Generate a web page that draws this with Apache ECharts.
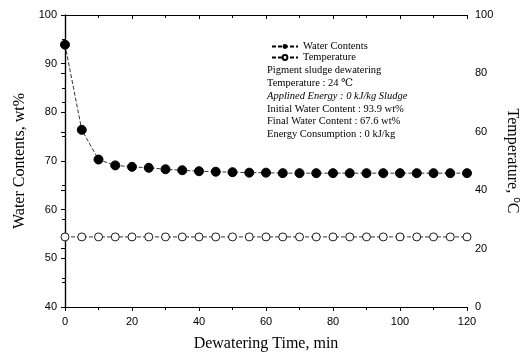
<!DOCTYPE html>
<html><head><meta charset="utf-8">
<script src="https://cdn.jsdelivr.net/npm/echarts@6/dist/echarts.min.js"></script>
<style>html,body{margin:0;padding:0;background:#fff}#c{width:525px;height:357px}</style>
</head><body><div id="c"></div>
<script>
var times = [0,5,10,15,20,25,30,35,40,45,50,55,60,65,70,75,80,85,90,95,100,105,110,115,120];
var waterContents = [93.9,76.4,70.3,69.1,68.8,68.6,68.3,68.1,67.9,67.8,67.7,67.6,67.6,67.5,67.5,67.5,67.5,67.5,67.5,67.5,67.5,67.5,67.5,67.5,67.5];
var temperature = [24,24,24,24,24,24,24,24,24,24,24,24,24,24,24,24,24,24,24,24,24,24,24,24,24];
var notes = ["Pigment sludge dewatering","Temperature : 24 \u2103","Applined Energy : 0 kJ/kg Sludge","Initial Water Content : 93.9 wt%","Final Water Content : 67.6 wt%","Energy Consumption : 0 kJ/kg"];

var chart = echarts.init(document.getElementById('c'));
var serif = '"Liberation Serif", "DejaVu Serif", serif';
var sans = '"Liberation Sans", Arial, sans-serif';
var axisLine = {show:true, lineStyle:{color:'#000', width:1.2}};
var graphics = notes.map(function(t,i){
  return {type:'text', left:267, top:65+i*12.8, style:{text:t, font:(i===2?'italic ':'')+'10.5px '+serif, fill:'#000'}};
});
chart.setOption({
  animation:false,
  grid:{left:65, right:58, top:15, bottom:50, containLabel:false, outerBoundsMode:'none'},
  legend:{
    orient:'vertical', left:266, top:36, itemGap:0, itemWidth:26, itemHeight:6,
    textStyle:{fontFamily:serif, fontSize:10.5, color:'#000'},
    data:['Water Contents','Temperature']
  },
  graphic: graphics,
  xAxis:[{
    type:'value', min:0, max:120, interval:20, position:'bottom',
    name:'Dewatering Time, min', nameLocation:'middle', nameGap:29,
    nameTextStyle:{fontFamily:serif, fontSize:16, color:'#000'},
    axisLine:axisLine, axisTick:{show:true, inside:false, length:4, lineStyle:{color:'#000'}},
    minorTick:{show:true, splitNumber:2, length:3, lineStyle:{color:'#000'}},
    axisLabel:{fontFamily:sans, fontSize:11, color:'#000', margin:9},
    splitLine:{show:false}
  },{
    type:'value', min:0, max:120, interval:20, position:'top',
    axisLine:axisLine, axisTick:{show:true, inside:true, length:4, lineStyle:{color:'#000'}},
    minorTick:{show:true, splitNumber:2, length:3, lineStyle:{color:'#000'}},
    axisLabel:{show:false}, splitLine:{show:false}
  }],
  yAxis:[{
    type:'value', min:40, max:100, interval:10, position:'left',
    name:'Water Contents, wt%', nameLocation:'middle', nameGap:36, nameRotate:90,
    nameTextStyle:{fontFamily:serif, fontSize:16, color:'#000'},
    axisLine:axisLine, axisTick:{show:true, inside:false, length:4, lineStyle:{color:'#000'}},
    minorTick:{show:true, splitNumber:2, length:3, lineStyle:{color:'#000'}},
    axisLabel:{fontFamily:sans, fontSize:11, color:'#000', margin:8},
    splitLine:{show:false}
  },{
    type:'value', min:0, max:100, interval:20, position:'right',
    name:'Temperature, {sup|o}C', nameLocation:'middle', nameGap:34, nameRotate:-90,
    nameTextStyle:{fontFamily:serif, fontSize:16, color:'#000',
      rich:{sup:{fontFamily:sans, fontSize:10, color:'#000', verticalAlign:'top', padding:[0,0,8,0]}}},
    axisLine:axisLine, axisTick:{show:true, inside:true, length:4, lineStyle:{color:'#000'}},
    minorTick:{show:true, splitNumber:2, length:3, lineStyle:{color:'#000'}},
    axisLabel:{fontFamily:sans, fontSize:11, color:'#000', margin:8},
    splitLine:{show:false}
  }],
  series:[{
    name:'Water Contents', type:'line', xAxisIndex:0, yAxisIndex:0,
    data: times.map(function(t,i){return [t, waterContents[i]];}),
    symbol:'circle', symbolSize:9,
    itemStyle:{color:'#000', borderColor:'#000'},
    lineStyle:{color:'#000', width:0.8, type:[4,2]}, clip:false, z:3
  },{
    name:'Temperature', type:'line', xAxisIndex:0, yAxisIndex:1,
    data: times.map(function(t,i){return [t, temperature[i]];}),
    symbol:'circle', symbolSize:8,
    itemStyle:{color:'#fff', borderColor:'#000', borderWidth:0.9},
    lineStyle:{color:'#000', width:0.8, type:[4,2]}, clip:false, z:3
  }]
});
</script>
</body></html>
